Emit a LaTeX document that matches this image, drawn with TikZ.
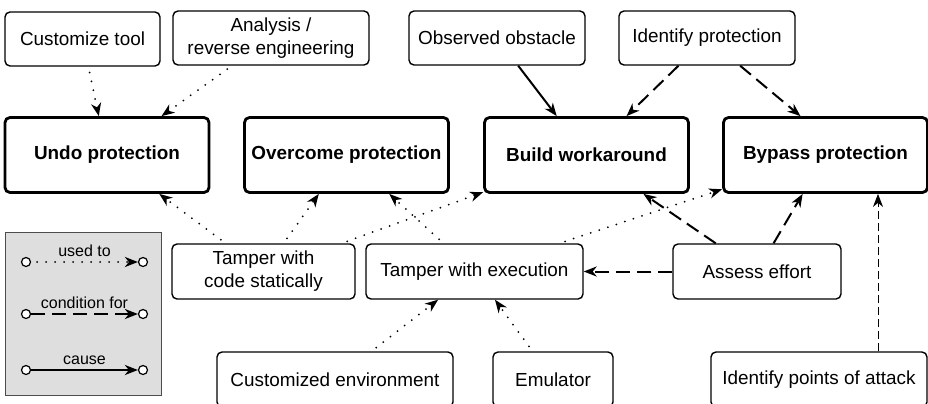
\documentclass[tikz,border=0pt]{standalone}
\usepackage{fontspec}
\setmainfont{Liberation Sans}
\usetikzlibrary{arrows.meta}

\begin{document}
\begin{tikzpicture}[x=0.5pt, y=-0.5pt,
    box/.style={draw, rounded corners=2.5pt, line width=0.7pt, inner sep=0pt, minimum height=27pt, align=center, font=\fontsize{9.45}{11.5}\selectfont},
    bigbox/.style={box, line width=1.4pt, minimum width=102pt, minimum height=37.5pt, font=\fontsize{9.45}{11.5}\selectfont\bfseries},
    tip/.style={-{Stealth[length=6.5pt, width=5pt, inset=2pt]}},
    usedto/.style={tip, line width=1pt, line cap=round, dash pattern=on 0pt off 4.5pt, shorten <=3pt},
    condfor/.style={tip, line width=1pt, dash pattern=on 7pt off 3.5pt},
    thindash/.style={tip, line width=0.5pt, dash pattern=on 4pt off 2pt},
    causes/.style={tip, line width=1pt},
    dot/.style={circle, draw, fill=white, line width=0.6pt, inner sep=0pt, minimum size=4.5pt},
    legtext/.style={font=\fontsize{8}{10}\selectfont, inner sep=2pt}]

    \useasboundingbox (0,0) rectangle (928,403);

    \node [box, minimum width=77.5pt] (a) at (82.5, 39) {Customize tool};
    \node [box, minimum width=98pt] (b) at (271, 38) {Analysis /\\reverse engineering};
    \node [box, minimum width=88pt] (c) at (497, 38) {Observed obstacle};
    \node [box, minimum width=88pt] (d) at (707, 38) {Identify protection};
    \node [bigbox] (e) at (107, 155) {Undo protection};
    \node [bigbox] (f) at (346.5, 155) {Overcome protection};
    \node [bigbox] (g) at (586.5, 155) {Build workaround};
    \node [bigbox] (h) at (825.5, 155) {Bypass protection};
    \node [box, minimum width=91.5pt, minimum height=27.5pt] (i) at (263.5, 271.5) {Tamper with\\code statically};
    \node [box, minimum width=108.5pt, minimum height=27.5pt] (j) at (474.5, 271.5) {Tamper with execution};
    \node [box, minimum width=84pt, minimum height=27.5pt] (k) at (757, 271.5) {Assess effort};
    \node [box, minimum width=118pt, minimum height=27.5pt] (l) at (335, 379.5) {Customized environment};
    \node [box, minimum width=60pt, minimum height=27.5pt] (m) at (553, 379.5) {Emulator};
    \node [box, minimum width=108pt, minimum height=27.5pt] (n) at (819, 379.5) {Identify points of attack};

    \draw [usedto] (a) to (e);
    \draw [usedto] (b) to (e);
    \draw [causes] (c) to (g);
    \draw [condfor] (d) to (g);
    \draw [condfor] (d) to ([xshift=-12.5pt]h.north);
    \draw [usedto] (i) to (e);
    \draw [usedto] (i) to (f);
    \draw [usedto] (i) to (g);
    \draw [usedto] (j) to (f);
    \draw [usedto] (j) to (h);
    \draw [condfor] (k) to (j);
    \draw [condfor] (k) to (g);
    \draw [condfor] (k) to (h);
    \draw [usedto] (l) to (j);
    \draw [usedto] (m) to (j);
    \draw [thindash] ([xshift=29.5pt]n.north) -- ([xshift=29.5pt]n.north |- h.south);

    % legend
    \node [draw=black!70, fill=black!13, line width=0.5pt, minimum width=78pt, minimum height=81.5pt, inner sep=0pt] (o) at (83, 313.5) {};
    \node [dot] (p) at (26, 262) {};
    \node [dot] (q) at (143, 262) {};
    \node [dot] (r) at (26, 314) {};
    \node [dot] (s) at (143, 314) {};
    \node [dot] (t) at (26, 370) {};
    \node [dot] (u) at (143, 370) {};
    \draw [usedto] (p) to node [legtext, above] {used to} (q);
    \draw [condfor] (r) to node [legtext, above] {condition for} (s);
    \draw [causes] (t) to node [legtext, above] {cause} (u);

  \end{tikzpicture}
\end{document}
